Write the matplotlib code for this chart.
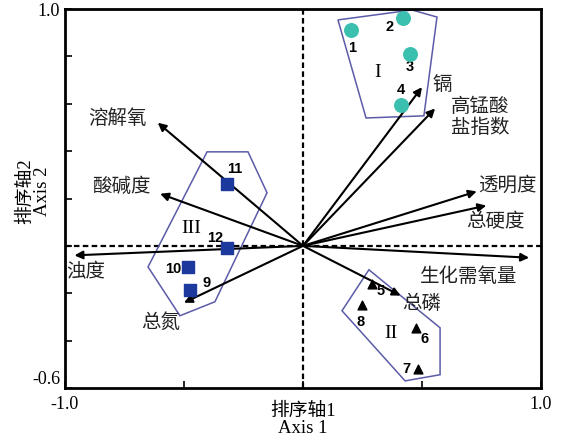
import matplotlib
matplotlib.use("Agg")
import matplotlib.pyplot as plt
from matplotlib.patches import Polygon

plt.rcParams['font.family'] = ['Liberation Serif', 'Noto Sans CJK SC']

# environmental factor vectors (axis 1, axis 2)
factors = ["溶解氧", "酸碱度", "浊度", "总氮", "总磷", "生化需氧量",
           "总硬度", "透明度", "高锰酸\n盐指数", "镉"]
factor_x = [-0.61, -0.60, -0.96, -0.50, 0.41, 0.95, 0.77, 0.73, 0.555, 0.50]
factor_y = [0.52, 0.22, -0.04, -0.24, -0.21, -0.05, 0.17, 0.23, 0.58, 0.67]
factor_lx = [-0.78, -0.765, -0.915, -0.60, 0.50, 0.695, 0.81, 0.86, 0.745, 0.585]
factor_ly = [0.54, 0.25, -0.11, -0.325, -0.245, -0.13, 0.10, 0.255, 0.545, 0.68]

# sampling sites by group
g1_ids = ["1", "2", "3", "4"]
g1_x = [0.20, 0.42, 0.45, 0.41]
g1_y = [0.91, 0.96, 0.81, 0.595]
g2_ids = ["5", "6", "7", "8"]
g2_x = [0.29, 0.475, 0.485, 0.25]
g2_y = [-0.16, -0.345, -0.52, -0.25]
g3_ids = ["9", "10", "11", "12"]
g3_x = [-0.475, -0.483, -0.32, -0.32]
g3_y = [-0.186, -0.089, 0.26, -0.008]

# label offsets for site numbers
g1_off = [(0.005, -0.075), (-0.055, -0.035), (0.0, -0.055), (0.0, 0.062)]
g2_off = [(0.035, -0.03), (0.035, -0.05), (-0.05, -0.0), (-0.01, -0.07)]
g3_off = [(0.07, 0.03), (-0.06, -0.008), (0.035, 0.065), (-0.05, 0.04)]

# convex hulls around the groups
hull1 = [(0.147, 0.954), (0.458, 0.996), (0.563, 0.966), (0.508, 0.549), (0.265, 0.540)]
hull2 = [(0.277, -0.101), (0.525, -0.304), (0.576, -0.346), (0.576, -0.544),
         (0.429, -0.570), (0.164, -0.274)]
hull3 = [(-0.403, 0.397), (-0.231, 0.397), (-0.151, 0.224), (-0.370, -0.236),
         (-0.517, -0.295), (-0.651, -0.089)]
group_names = ["I", "II", "III"]
group_pos = [(0.315, 0.73), (0.37, -0.37), (-0.47, 0.075)]

fig = plt.figure(figsize=(5.64, 4.42), dpi=100)
ax = fig.add_axes([0.1152, 0.1222, 0.844, 0.8574])
ax.set_xlim(-1.0, 1.0)
ax.set_ylim(-0.6, 1.0)

ax.axhline(0, color='black', ls=(0, (2.5, 1.5)), lw=1.6, zorder=1)
ax.axvline(0, color='black', ls=(0, (2.5, 1.5)), lw=1.6, zorder=1)

hull_color = '#5b5ba8'
for h in (hull1, hull2, hull3):
    ax.add_patch(Polygon(h, closed=True, fill=False, ec=hull_color, lw=1.1, zorder=2))

for name, (gx, gy) in zip(group_names, group_pos):
    ax.text(gx, gy, name, fontsize=14, ha='center', va='center',
            family='Liberation Serif')

for x, y in zip(factor_x, factor_y):
    ax.annotate("", xy=(x, y), xytext=(0, 0),
                arrowprops=dict(arrowstyle='-|>', color='black', lw=1.5,
                                mutation_scale=12, shrinkA=0, shrinkB=0),
                zorder=4)
for name, lx, ly in zip(factors, factor_lx, factor_ly):
    ax.text(lx, ly, name, fontsize=14, ha='center', va='center',
            family='Noto Sans CJK SC', linespacing=1.0, color='#222222')

ax.scatter(g1_x, g1_y, s=95, marker='o', color='#3bbfae', zorder=5)
ax.scatter(g2_x, g2_y, s=40, marker='^', color='black', zorder=5)
ax.scatter(g3_x, g3_y, s=70, marker='s', color='#1c3a9e', zorder=5)

for ids, xs, ys, offs in ((g1_ids, g1_x, g1_y, g1_off),
                          (g2_ids, g2_x, g2_y, g2_off),
                          (g3_ids, g3_x, g3_y, g3_off)):
    for i, x, y, (dx, dy) in zip(ids, xs, ys, offs):
        ax.text(x + dx, y + dy, i, fontsize=10.5, fontweight='bold',
                family='Liberation Sans', ha='center', va='center')

ax.set_xticks([-1.0, -0.5, 0, 0.5, 1.0])
ax.set_xticklabels(["-1.0", "", "", "", "1.0"])
ax.set_yticks([-0.6, -0.4, -0.2, 0, 0.2, 0.4, 0.6, 0.8, 1.0])
ax.set_yticklabels(["-0.6", "", "", "", "", "", "", "", "1.0"])
ax.tick_params(direction='in', length=5, width=1.2, labelsize=13)
ax.tick_params(axis='x', pad=6)
ax.get_yticklabels()[0].set_va('bottom')
for sp in ax.spines.values():
    sp.set_linewidth(2)

ax.set_xlabel("排序轴1\nAxis 1", fontsize=13.5, linespacing=0.95)
ax.xaxis.set_label_coords(0.5, -0.04)
ax.set_ylabel("排序轴2\nAxis 2", fontsize=13.5, linespacing=0.95)
ax.yaxis.set_label_coords(-0.03, 0.52)

fig.savefig("out.png", dpi=100)
